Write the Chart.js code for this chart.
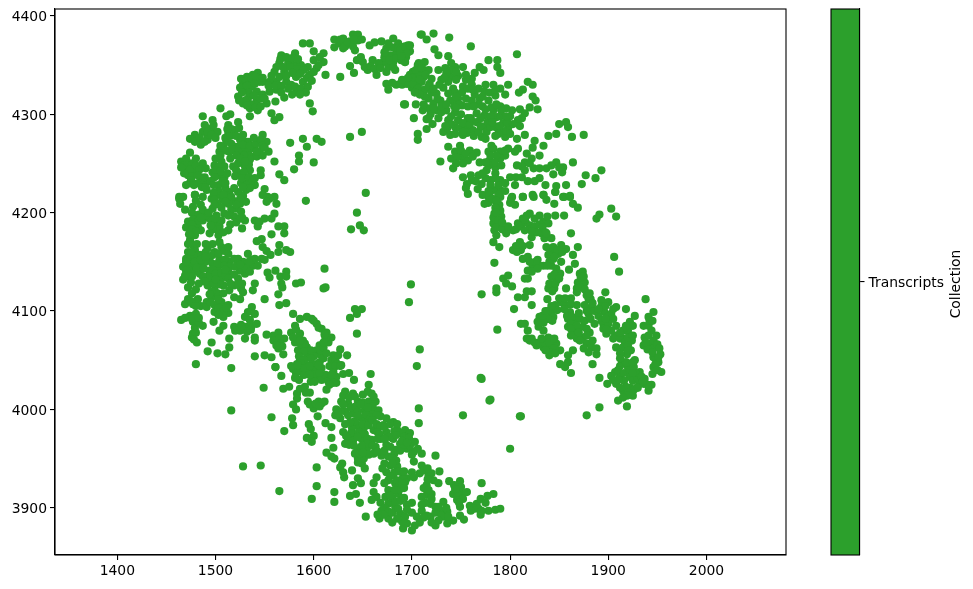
<!DOCTYPE html>
<html>
<head>
<meta charset="utf-8">
<title>Transcripts</title>
<script src="https://cdn.jsdelivr.net/npm/chart.js@4"></script>
<style>
  html, body { margin: 0; padding: 0; background: #fff; }
  #wrap { position: relative; width: 973px; height: 589px; overflow: hidden; }
  canvas { position: absolute; top: 0; }
</style>
</head>
<body>
<div id="wrap">
  <canvas id="scatter" width="973" height="589" style="left:0"></canvas>
  <canvas id="colorbar" width="183" height="589" style="left:790px"></canvas>
</div>
<script>
// values, one list per part of the ring
const topLeftArc = [[1505,4306],[1561,4313],[1596,4311],[1599,4303],[1535,4298],[1557,4301],[1560,4294],[1565,4297],[1576,4271],[1589,4275],[1593,4267],[1603,4275],[1608,4272],[1585,4258],[1585,4252],[1580,4244],[1600,4251],[1560,4252],[1565,4239],[1570,4233],[1637,4277],[1649,4282],[1653,4220],[1627,4338],[1637,4349],[1641,4342],[1693,4310],[1702,4296],[1704,4310],[1706,4280],[1706,4274],[1709,4381],
[1528,4331],[1532,4338],[1538,4340],[1543,4342],[1545,4333],[1530,4326],[1537,4328],[1542,4323],[1535,4333],[1523,4318],[1528,4311],[1535,4306],[1543,4304],[1552,4311],[1542,4314],[1533,4316],[1548,4320],[1555,4323],
[1567,4360],[1581,4362],[1565,4352],[1574,4353],[1560,4343],[1570,4343],[1581,4350],[1587,4350],[1562,4333],[1555,4333],[1572,4333],[1582,4338],[1589,4333],[1594,4328],[1582,4323],[1570,4317],[1562,4325],[1577,4330],[1548,4333],
[1589,4372],[1596,4372],[1600,4364],[1610,4362],[1610,4353],[1603,4347],[1594,4348],[1596,4340],[1612,4340],[1621,4376],[1621,4368],[1630,4377],[1632,4369],[1640,4381],[1645,4381],[1649,4376],[1642,4365],[1637,4374],
[1644,4355],[1650,4353],[1655,4345],[1664,4340],[1674,4343],[1683,4345],[1660,4355],[1671,4353],[1681,4353],[1657,4370],[1669,4374],[1681,4377],[1686,4372],[1674,4367],[1678,4360],[1696,4370],[1691,4362],[1698,4364],[1693,4353],[1684,4362],[1666,4352],
[1674,4331],[1676,4325],[1684,4330],[1695,4331],[1703,4335],[1706,4345],[1706,4328],[1707,4352],
[1487,4298],[1489,4289],[1497,4294],[1487,4282],[1496,4284],[1492,4277],[1502,4282],[1479,4279],[1474,4275],[1479,4272],[1485,4269],[1492,4274],[1511,4298],[1515,4300],[1513,4289],[1523,4292],[1519,4284],[1528,4279],[1513,4281],
[1508,4267],[1504,4262],[1516,4270],[1525,4274],[1533,4272],[1540,4265],[1548,4279],[1552,4272],[1545,4262],[1554,4262],[1537,4257],[1526,4262],[1514,4262],[1520,4267],[1530,4265],[1542,4257],[1533,4262],[1511,4272],[1523,4267],
[1474,4261],[1465,4252],[1469,4245],[1475,4250],[1480,4255],[1487,4250],[1472,4238],[1479,4241],[1485,4236],[1474,4230],[1482,4230],[1489,4230],[1491,4223],[1479,4218],[1463,4216],
[1499,4248],[1506,4252],[1497,4241],[1509,4247],[1503,4238],[1509,4236],[1503,4228],[1518,4247],[1523,4250],[1530,4247],[1535,4243],[1525,4240],[1546,4243],[1546,4238],[1526,4230],[1533,4230],[1540,4228],[1531,4223],[1514,4221],[1504,4218],[1496,4214],[1523,4221],[1513,4214],[1550,4224],[1553,4216],[1560,4216]];

const topLeftDense = [[1526,4336],[1531,4334],[1537,4336],[1541,4338],[1525,4327],[1532,4329],[1540,4331],[1548,4337],[1534,4322],[1527,4322],[1539,4319],[1546,4316],[1536,4310],[1530,4314],[1524,4314],[1541,4307],[1550,4316],[1546,4308],[1532,4309],
[1566,4356],[1572,4358],[1578,4357],[1584,4356],[1562,4348],[1569,4348],[1576,4348],[1583,4346],[1590,4345],[1557,4339],[1565,4338],[1572,4339],[1578,4342],[1586,4341],[1593,4337],[1598,4334],[1554,4329],[1561,4329],[1567,4329],[1574,4326],[1581,4328],[1587,4326],[1592,4322],[1578,4320],[1586,4320],[1567,4322],[1600,4343],[1605,4350],[1600,4355],[1606,4358],
[1626,4372],[1634,4373],[1640,4369],[1645,4375],[1641,4376],[1627,4376],[1630,4367],
[1648,4358],[1652,4348],[1658,4349],[1662,4346],[1668,4347],[1676,4348],[1681,4348],[1672,4358],[1677,4355],[1684,4357],[1689,4355],[1672,4363],[1680,4368],[1686,4367],[1690,4368],[1694,4358],[1662,4373],[1676,4372],
[1680,4332],[1690,4330],[1700,4333],[1706,4338],[1700,4327],[1712,4338],[1712,4345],
[1491,4286],[1492,4282],[1498,4289],[1484,4276],[1489,4272],[1496,4279],[1500,4276],
[1510,4276],[1515,4278],[1521,4278],[1527,4276],[1516,4285],[1524,4286],[1512,4285],[1505,4268],[1511,4263],[1517,4264],[1523,4262],[1528,4269],[1535,4268],[1541,4270],[1546,4274],[1548,4268],[1534,4258],[1529,4258],[1548,4258],[1521,4258],[1539,4276],[1542,4262],[1550,4266],
[1470,4255],[1468,4248],[1474,4244],[1480,4248],[1484,4244],[1490,4245],[1476,4237],[1482,4238],[1475,4233],[1478,4228],[1486,4226],[1489,4236],
[1503,4246],[1500,4243],[1505,4242],[1499,4236],[1521,4243],[1529,4241],[1534,4249],[1520,4237],[1527,4235],[1534,4236],[1538,4233],[1535,4225],[1528,4226],[1519,4225],[1510,4225],[1503,4222],[1498,4220],[1507,4213],[1518,4212],[1528,4217],[1513,4209],[1521,4204],[1516,4203],
[1470,4228],[1468,4240],[1465,4246],[1490,4226],[1495,4232],[1498,4228],[1507,4232],[1512,4240],[1515,4255],[1500,4255],[1505,4258],[1535,4254],[1525,4255],[1530,4252],[1540,4235],[1510,4230]];

const topRightArc = [[1710,4381],[1715,4376],[1722,4382],[1738,4378],[1760,4369],[1807,4361],[1723,4366],[1727,4360],[1688,4365],[1693,4369],[1698,4370],[1695,4362],[1693,4353],[1689,4359],
[1713,4353],[1706,4350],[1701,4343],[1708,4342],[1717,4345],[1695,4331],[1701,4331],[1710,4333],[1718,4331],[1713,4325],[1725,4321],[1717,4316],[1722,4311],[1729,4314],[1717,4306],[1725,4304],[1717,4296],[1727,4296],[1730,4302],[1688,4331],
[1692,4310],[1715,4285],[1721,4290],[1737,4359],[1740,4352],[1727,4345],[1734,4347],[1744,4348],[1752,4348],[1747,4339],[1739,4338],[1730,4335],[1737,4333],
[1778,4355],[1769,4348],[1764,4342],[1761,4336],[1773,4345],[1787,4355],[1787,4348],[1790,4342],
[1742,4326],[1737,4321],[1752,4328],[1761,4330],[1768,4326],[1774,4323],[1761,4314],[1769,4316],[1778,4314],[1757,4308],[1739,4314],[1747,4316],[1783,4330],[1790,4326],[1785,4319],[1798,4330],
[1818,4333],[1823,4330],[1813,4325],[1809,4322],[1823,4318],[1826,4314],[1820,4307],[1828,4305],[1810,4305],[1815,4301],[1812,4296],[1808,4294],[1810,4288],[1802,4304],[1790,4308],[1796,4306],
[1732,4282],[1739,4279],[1744,4287],[1737,4294],[1747,4294],[1756,4287],[1762,4284],[1771,4277],[1774,4287],[1766,4301],[1774,4299],[1783,4304],[1786,4297],[1793,4291],[1798,4286],[1795,4277],[1785,4287],[1766,4292],[1752,4279],[1757,4296],[1735,4304],[1744,4302],[1751,4309],[1742,4314],
[1737,4267],[1729,4252],[1749,4268],[1744,4262],[1740,4255],[1751,4257],[1759,4263],[1757,4253],[1766,4261],[1742,4245],
[1781,4268],[1778,4262],[1790,4262],[1798,4265],[1807,4275],[1815,4279],[1808,4265],[1805,4262],[1795,4258],[1769,4251],[1779,4253],[1785,4246],[1776,4243],[1790,4255],
[1825,4273],[1834,4268],[1839,4278],[1847,4280],[1823,4266],[1830,4258],[1817,4260],[1850,4290],[1857,4292],[1859,4287],[1863,4277],[1875,4279],
[1807,4248],[1815,4251],[1824,4245],[1837,4245],[1847,4251],[1854,4246],[1853,4241],[1844,4239],[1822,4255],[1864,4251],[1877,4238],[1893,4243],[1887,4235],[1873,4229],[1847,4227],[1846,4221],[1857,4228],[1861,4216],[1854,4216],
[1752,4236],[1761,4233],[1756,4229],[1771,4229],[1780,4233],[1790,4233],[1800,4236],[1812,4236],[1825,4232],[1805,4228],[1768,4238],[1785,4240],[1790,4223],[1757,4219],[1778,4216],[1790,4216],[1802,4216],[1813,4216],[1824,4216],[1834,4218],[1783,4223]];

const topRightDense = [[1698,4340],[1704,4345],[1710,4347],[1714,4340],[1708,4335],[1720,4336],[1717,4328],[1720,4322],[1722,4326],[1713,4318],[1726,4316],[1719,4300],[1722,4306],[1730,4308],[1711,4304],[1706,4326],[1700,4337],[1696,4337],[1690,4335],
[1740,4345],[1735,4342],[1745,4343],[1733,4337],[1735,4310],[1743,4308],[1748,4310],[1744,4322],[1751,4322],[1757,4326],[1755,4316],[1764,4320],[1772,4318],[1779,4322],[1768,4310],[1763,4308],[1772,4308],
[1736,4286],[1740,4290],[1744,4280],[1749,4286],[1752,4291],[1756,4281],[1759,4290],[1763,4278],[1768,4282],[1770,4288],[1777,4292],[1780,4298],[1776,4282],[1780,4287],[1790,4298],[1793,4283],[1789,4288],[1797,4292],[1791,4304],[1781,4307],[1775,4305],[1786,4310],[1740,4298],[1734,4288],[1750,4300],[1745,4307],
[1750,4263],[1746,4256],[1752,4250],[1745,4250],[1755,4260],[1762,4257],[1783,4265],[1786,4258],[1780,4258],[1795,4263],[1784,4251],[1778,4248],[1791,4248],[1775,4251],[1785,4235],[1775,4235],[1780,4228],[1788,4228],[1795,4230],[1765,4232],[1760,4238],[1772,4240],[1755,4225],[1767,4224],[1778,4222],[1772,4218],[1785,4212],[1778,4210],[1795,4222],[1800,4210],
[1812,4247],[1820,4250],[1830,4245],[1842,4248],[1850,4246],[1815,4243],[1806,4236],[1818,4232],[1830,4235],[1836,4228],
[1760,4296],[1770,4296],[1752,4282],[1788,4280],[1800,4280],[1803,4290],[1800,4298],[1796,4298],[1782,4292],[1775,4275],[1785,4278],[1745,4318],[1755,4335],[1762,4325],[1775,4330],[1785,4325],[1795,4320],[1745,4335],[1755,4340],[1732,4327],[1728,4330],[1712,4310],[1708,4320],[1703,4322],[1715,4295]];

const leftLobe = [[1463,4214],[1467,4216],[1464,4209],[1469,4203],[1479,4218],[1477,4206],[1485,4208],[1487,4216],[1480,4197],[1487,4192],[1472,4191],[1470,4185],[1482,4186],[1485,4182],[1494,4194],[1474,4172],[1479,4177],[1477,4167],
[1499,4213],[1508,4218],[1516,4216],[1525,4209],[1497,4204],[1499,4189],[1509,4199],[1519,4196],[1526,4201],[1531,4211],[1504,4186],[1494,4179],[1503,4177],[1513,4182],[1501,4197],[1530,4192],[1527,4184],
[1548,4218],[1555,4214],[1562,4209],[1552,4211],[1560,4199],[1557,4194],[1540,4192],[1543,4186],[1550,4194],[1545,4191],[1592,4212],[1644,4200],[1647,4187],[1651,4182],[1638,4183],[1564,4186],[1570,4186],[1570,4179],[1557,4178],[1542,4171],[1547,4173],[1565,4167],[1564,4160],[1572,4162],[1576,4160],[1548,4165],[1552,4161],[1556,4157],
[1472,4160],[1470,4153],[1479,4162],[1484,4157],[1492,4164],[1499,4160],[1506,4165],[1513,4158],[1494,4153],[1504,4152],[1514,4150],[1475,4148],[1467,4145],[1484,4148],[1477,4140],[1472,4135],[1467,4132],[1472,4124],[1484,4138],[1475,4129],
[1494,4141],[1502,4143],[1513,4140],[1497,4135],[1506,4133],[1494,4128],[1508,4126],[1499,4121],[1514,4121],[1492,4126],[1523,4133],[1519,4126],[1526,4123],[1528,4119],[1530,4138],[1523,4153],[1533,4158],[1528,4150],[1525,4141],[1533,4145],[1540,4153],[1547,4153],[1550,4152],[1538,4146],[1543,4146],[1540,4128],[1538,4121],[1550,4112],
[1553,4139],[1555,4134],[1561,4141],[1572,4140],[1566,4135],[1572,4135],[1567,4128],[1568,4124],[1564,4117],[1565,4106],[1572,4108],[1582,4128],[1587,4129],[1611,4143],[1610,4123],[1612,4124],[1699,4127],[1697,4109],[1642,4102],[1649,4102],[1644,4097],[1637,4093],[1579,4097],[1644,4077],
[1519,4114],[1525,4112],[1469,4107],[1472,4112],[1477,4107],[1482,4112],[1485,4105],[1491,4109],[1496,4114],[1499,4106],[1506,4109],[1513,4106],[1499,4099],[1506,4104],[1513,4098],[1508,4094],[1465,4091],[1474,4095],[1480,4097],[1477,4089],[1479,4083],[1487,4085],[1498,4089],
[1508,4085],[1504,4080],[1514,4072],[1496,4068],[1492,4059],[1502,4057],[1510,4056],[1514,4063],[1476,4073],[1481,4068],[1477,4077],[1480,4046],[1516,4042],
[1537,4104],[1533,4099],[1530,4094],[1540,4097],[1519,4084],[1525,4080],[1531,4084],[1537,4085],[1542,4087],[1530,4072],[1540,4073],[1540,4070],[1540,4054],[1550,4055],
[1552,4076],[1559,4075],[1564,4078],[1562,4070],[1570,4072],[1564,4062],[1569,4056],[1557,4053],[1561,4043],
[1581,4085],[1577,4078],[1586,4077],[1593,4094],[1586,4092],[1598,4092],[1603,4087],[1608,4082],[1613,4078],[1618,4073],[1615,4068],[1606,4065],[1603,4060],[1589,4070],[1581,4068],[1584,4060],[1593,4063],[1594,4056],[1606,4056],
[1627,4061],[1634,4055],[1620,4055],[1618,4050],[1628,4045],[1621,4043],[1586,4050],[1581,4043],[1593,4045],[1603,4046],[1593,4053],[1705,4044],[1708,4061]];

const leftLobeDense = [[1502,4209],[1510,4211],[1525,4214],[1506,4205],[1521,4208],[1499,4208],[1501,4183],[1508,4180],[1515,4188],[1521,4190],[1525,4194],[1497,4183],[1506,4192],[1499,4194],[1513,4197],[1527,4195],
[1476,4200],[1483,4198],[1477,4193],[1483,4192],[1476,4188],[1490,4197],[1487,4203],[1480,4212],[1476,4183],[1480,4181],[1474,4178],[1472,4168],
[1475,4155],[1478,4156],[1473,4145],[1479,4150],[1472,4142],[1476,4135],[1481,4144],[1470,4141],[1469,4136],[1488,4143],
[1490,4160],[1497,4157],[1503,4158],[1509,4161],[1490,4150],[1497,4148],[1502,4148],[1509,4152],[1497,4142],[1509,4146],[1514,4145],[1492,4135],[1500,4138],[1506,4139],[1510,4136],[1504,4127],[1498,4128],[1513,4133],[1502,4118],[1496,4120],[1494,4117],
[1519,4153],[1523,4148],[1537,4152],[1531,4143],[1519,4137],[1523,4128],[1527,4128],[1534,4150],
[1475,4110],[1480,4105],[1491,4104],[1495,4109],[1503,4112],[1503,4103],[1508,4100],[1511,4103],[1469,4093],[1476,4092],[1483,4088],[1483,4093],[1480,4078],[1478,4071],[1503,4096],
[1526,4086],[1532,4079],[1535,4091],[1536,4081],[1526,4084],[1520,4080],
[1559,4070],[1565,4072],[1566,4067],[1568,4064],[1562,4065],[1582,4081],[1579,4073],[1583,4072],[1587,4066],[1591,4067],[1586,4070],[1597,4060],[1590,4059],[1600,4054],[1585,4054],[1597,4052],[1590,4050],[1583,4046],[1599,4046],[1607,4060],[1612,4072],[1610,4063],[1605,4083],[1600,4090],[1611,4076],[1587,4047],[1606,4048],[1622,4050],[1625,4055],[1624,4046],[1616,4044],[1598,4040],[1603,4040],[1589,4037],[1585,4040],[1579,4041],[1599,4032],[1603,4033],[1601,4036],[1608,4042],[1592,4038],[1582,4037],
[1470,4150],[1475,4160],[1485,4152],[1490,4155],[1487,4135],[1489,4130],[1483,4128],[1480,4122],[1476,4118],[1500,4132],[1508,4118],[1515,4128],[1510,4142],[1520,4145],[1525,4147],[1535,4140],[1497,4168],[1504,4170],[1513,4165],[1490,4168],[1481,4168],[1473,4178],[1485,4195],[1493,4200],[1495,4187],
[1590,4035],[1585,4030],[1597,4028],[1608,4030],[1612,4035],[1615,4028],[1610,4052],[1613,4057],[1610,4068]];

const bottomArc = [[1577,4044],[1584,4045],[1591,4042],[1581,4032],[1596,4044],[1605,4045],[1596,4035],[1606,4037],[1601,4028],[1561,4043],[1567,4034],[1549,4022],[1770,4032],[1780,4010],[1752,3994],[1800,3960],[1810,3993],[1707,4001],[1707,3986],[1658,4036],[1630,4036],[1636,4037],[1641,4030],
[1622,4044],[1627,4044],[1617,4030],[1623,4027],[1613,4020],[1620,4038],[1569,4021],[1575,4023],[1583,4016],[1583,4011],[1591,4023],[1596,4017],[1594,4008],[1605,4008],[1611,4008],[1600,4001],[1579,4005],[1582,4000],[1578,3991],[1579,3984],[1570,3978],[1557,3992],[1516,3999],
[1595,3985],[1597,3980],[1593,3971],[1600,3973],[1598,3967],[1604,3993],[1612,3986],[1618,3982],[1618,3971],[1620,3961],[1613,3956],[1618,3952],[1621,3950],[1629,3945],[1627,3941],[1630,3936],[1631,3931],[1603,3941],[1528,3942],[1546,3943],[1565,3917],[1603,3922],[1598,3909],[1621,3916],[1621,3906],[1637,3912],[1643,3914],[1647,3905],[1653,3891],
[1639,3938],[1645,3930],[1640,3923],[1648,3925],[1649,3945],[1645,3950],[1652,3940],[1664,3931],[1661,3925],[1632,4018],[1640,4016],[1645,4008],[1628,4008],[1635,4006],[1623,4000],[1632,3998],[1627,3991],[1640,3996],[1622,3994],
[1656,4025],[1659,4016],[1656,4008],[1663,4008],[1652,3999],[1659,3998],[1666,3999],[1649,3991],[1656,3989],[1645,3984],[1651,3981],[1639,3981],[1630,3977],[1635,3970],[1632,3965],[1642,3974],
[1668,3993],[1674,3991],[1671,3984],[1681,3987],[1661,3979],[1659,3969],[1685,3979],[1693,3979],[1698,3976],[1674,3977],[1668,3970],[1681,3970],
[1649,3970],[1645,3960],[1654,3959],[1642,3955],[1651,3950],[1661,3955],[1669,3953],[1663,3962],[1674,3964],[1683,3959],[1676,3952],[1688,3965],[1695,3960],[1703,3967],[1702,3957],[1710,3955],[1724,3953],[1710,3943],[1702,3947],[1700,3936],[1708,3935],[1695,3930],[1702,3931],
[1678,3943],[1685,3942],[1674,3936],[1681,3933],[1691,3931],[1688,3921],[1686,3914],[1693,3926],[1683,3925],[1676,3918],[1661,3916],[1664,3911],[1659,3908],[1673,3911],[1676,3904],[1669,3897],[1667,3889],[1676,3889],[1683,3901],[1688,3894],[1693,3891],[1691,3879],[1700,3877],[1703,3882],[1695,3884],
[1717,3933],[1715,3923],[1722,3928],[1727,3925],[1715,3913],[1710,3911],[1720,3914],[1719,3904],[1710,3897],[1705,3891],[1724,3901],[1732,3906],[1729,3897],[1736,3896],[1719,3891],[1724,3882],[1736,3884],[1742,3887],[1732,3891],[1728,3937],
[1738,3927],[1749,3927],[1748,3919],[1742,3914],[1751,3914],[1756,3916],[1746,3908],[1749,3901],[1749,3892],[1753,3888],[1759,3902],[1766,3904],[1764,3899],[1770,3909],[1777,3912],[1783,3914],[1770,3893],[1778,3897],[1785,3898],[1790,3899],[1771,3925]];

const bottomArcDense = [[1623,4033],[1620,4027],[1616,4025],[1618,4035],[1592,4017],[1586,4021],[1596,4005],[1602,4006],[1608,4006],[1606,4003],
[1630,4014],[1636,4012],[1642,4013],[1630,4005],[1638,4002],[1643,4003],[1627,3998],[1635,3994],[1625,3996],[1650,4015],[1655,4018],[1661,4013],[1650,4007],[1660,4003],[1653,3995],[1658,3992],[1664,3994],[1650,3985],[1642,3988],[1656,3984],[1638,3976],[1646,3977],[1633,3973],[1640,3968],[1645,3972],[1652,3975],[1655,3970],[1636,3964],[1641,3963],
[1660,3989],[1664,3985],[1668,3983],[1665,3977],[1672,3982],[1678,3985],[1685,3985],[1682,3978],[1689,3976],[1667,3975],[1677,3972],[1684,3974],[1692,3972],[1697,3971],[1655,3965],[1649,3963],[1660,3963],[1647,3955],[1656,3954],[1645,3946],[1650,3956],[1665,3957],[1672,3958],[1678,3962],[1682,3955],[1688,3958],[1692,3964],[1698,3963],[1700,3954],[1706,3960],[1680,3950],[1684,3948],
[1682,3936],[1678,3932],[1685,3928],[1680,3945],[1687,3937],[1692,3937],[1690,3925],[1687,3918],[1692,3920],[1712,3938],[1716,3940],[1720,3935],[1716,3929],[1712,3920],[1714,3905],[1720,3909],[1717,3918],[1724,3895],[1715,3892],[1710,3903],[1727,3901],[1730,3892],[1735,3900],[1737,3891],[1727,3887],[1720,3885],
[1743,3923],[1746,3915],[1750,3921],[1744,3919],[1752,3909],[1748,3905],[1760,3897],[1768,3899],[1775,3905],[1771,3897],
[1668,3905],[1672,3900],[1676,3896],[1680,3895],[1686,3899],[1690,3886],[1680,3910],[1683,3906],[1688,3907],[1685,3889],
[1645,3998],[1648,4005],[1645,3994],[1637,3987],[1632,3985],[1655,4002],[1665,3970],[1672,3970],[1690,3968],[1695,3966],[1672,3945],[1670,3940],[1676,3928],[1672,3925],[1682,3918],[1678,3912],[1695,3903],[1692,3910],[1700,3905],[1700,3895],[1695,3898],[1712,3890],[1708,3885],[1680,3885],[1671,3893],[1665,3893]];

const rightLobe = [[1779,4218],[1774,4209],[1788,4218],[1789,4208],[1801,4214],[1805,4208],[1813,4216],[1823,4218],[1834,4218],[1837,4213],[1846,4221],[1855,4216],[1861,4217],[1864,4209],[1869,4205],[1845,4209],[1846,4197],[1855,4197],[1862,4179],[1903,4204],[1908,4196],[1888,4194],[1891,4198],[1906,4155],[1911,4140],[1938,4112],[1869,4165],[1864,4157],[1866,4148],[1860,4142],
[1784,4199],[1783,4189],[1784,4182],[1791,4196],[1789,4187],[1783,4170],[1789,4165],[1786,4177],[1796,4179],[1803,4182],[1808,4189],[1813,4194],[1820,4199],[1825,4194],[1820,4187],[1834,4191],[1832,4179],[1822,4175],[1839,4189],[1835,4174],[1842,4174],
[1810,4170],[1803,4162],[1811,4162],[1813,4153],[1820,4167],[1837,4165],[1842,4160],[1852,4167],[1857,4163],[1849,4158],[1839,4157],[1828,4152],[1823,4145],[1834,4146],[1818,4141],[1842,4146],[1852,4150],[1847,4143],[1851,4138],[1818,4133],[1815,4133],[1842,4135],[1847,4131],[1839,4123],[1845,4123],[1857,4123],
[1784,4149],[1793,4133],[1798,4136],[1796,4128],[1802,4125],[1786,4123],[1786,4119],[1771,4117],[1808,4114],[1815,4114],[1817,4120],[1822,4120],[1804,4102],[1822,4106],[1838,4112],[1871,4138],[1874,4140],[1869,4129],[1876,4129],[1868,4123],[1868,4119],[1897,4119],
[1852,4109],[1846,4106],[1842,4099],[1840,4092],[1830,4094],[1829,4084],[1834,4080],[1844,4094],[1862,4113],[1857,4106],[1868,4106],[1861,4099],[1859,4092],[1866,4092],[1859,4084],[1866,4078],[1874,4084],[1871,4092],[1880,4112],[1883,4104],[1876,4106],[1880,4097],[1886,4087],[1881,4078],[1874,4073],[1868,4072],[1878,4067],[1883,4063],[1888,4056],
[1893,4111],[1900,4109],[1896,4099],[1890,4095],[1903,4097],[1908,4104],[1918,4102],[1895,4087],[1898,4077],[1908,4085],[1907,4075],[1817,4072],[1822,4072],[1827,4065],[1834,4063],[1839,4073],[1842,4063],[1847,4067],[1840,4055],[1851,4060],[1818,4080],[1811,4087],[1815,4087],[1864,4060],[1859,4055],[1851,4046],[1856,4043],[1859,4048],[1862,4037],[1884,4046],[1891,4032],[1899,4026],
[1927,4095],[1922,4089],[1920,4080],[1915,4072],[1924,4070],[1905,4072],[1908,4063],[1919,4056],[1946,4099],[1941,4094],[1936,4085],[1944,4080],[1937,4073],[1949,4075],[1942,4067],[1936,4065],[1947,4063],[1953,4056],[1946,4053],[1951,4048],[1946,4043],[1954,4038],
[1914,4048],[1907,4038],[1920,4043],[1927,4050],[1912,4033],[1922,4033],[1932,4038],[1937,4031],[1944,4025],[1941,4019],[1915,4019],[1925,4014],[1929,4022],[1908,4026],[1903,4034],[1932,4026],[1922,4022],[1910,4009],[1919,4003],[1891,4002],[1878,3994],[1811,3993],[1779,4009],[1787,4081],[1771,4031]];

const rightLobeDense = [[1782,4214],[1786,4212],[1790,4202],[1785,4205],[1783,4195],[1788,4192],[1786,4185],[1792,4183],[1806,4183],[1811,4186],[1816,4190],[1817,4197],[1825,4186],[1830,4188],[1833,4185],[1827,4180],[1836,4180],[1838,4196],[1815,4193],[1830,4197],
[1806,4166],[1813,4166],[1807,4160],[1844,4165],[1848,4162],[1853,4160],[1844,4153],[1830,4146],[1826,4150],[1840,4150],[1822,4140],[1828,4143],[1838,4146],[1845,4137],[1840,4128],[1846,4128],[1843,4120],
[1850,4113],[1848,4101],[1843,4090],[1838,4092],[1834,4088],[1828,4089],[1833,4095],[1842,4105],[1838,4100],
[1862,4107],[1858,4095],[1863,4094],[1855,4102],[1862,4087],[1868,4085],[1870,4098],[1878,4100],[1876,4090],[1878,4082],[1882,4092],[1886,4100],[1870,4078],[1862,4082],[1871,4070],[1878,4075],[1884,4070],
[1872,4134],[1871,4124],[1876,4122],[1878,4116],[1882,4112],[1893,4105],[1897,4105],[1899,4094],[1893,4090],[1905,4092],[1900,4087],[1895,4082],[1903,4080],[1898,4081],
[1820,4070],[1825,4068],[1830,4068],[1836,4067],[1840,4068],[1845,4062],[1842,4058],[1836,4060],
[1912,4072],[1917,4068],[1920,4073],[1915,4063],[1920,4065],[1925,4085],[1918,4085],[1912,4057],[1923,4060],
[1941,4085],[1941,4075],[1946,4070],[1940,4061],[1945,4058],[1950,4066],[1948,4046],[1951,4053],
[1912,4044],[1918,4048],[1910,4040],[1916,4037],[1922,4040],[1926,4043],[1916,4029],[1910,4030],[1918,4023],[1925,4029],[1930,4032],[1928,4037],[1934,4033],[1926,4020],[1920,4017],[1936,4026],[1940,4025],[1912,4022],[1919,4014],
[1786,4200],[1792,4190],[1798,4186],[1815,4182],[1822,4181],[1837,4179],[1818,4155],[1820,4150],[1845,4155],[1850,4133],[1875,4135],[1881,4118],[1884,4108],[1890,4102],[1897,4092],[1905,4102],[1856,4113],[1836,4100],[1832,4072],[1845,4072],[1846,4057],[1862,4075],[1875,4062],[1880,4058],[1888,4062],[1915,4080],[1912,4078],[1925,4075],[1920,4060],[1942,4090],[1945,4090],[1938,4068],[1945,4036],[1950,4040],[1952,4062],[1905,4030],[1925,4037],[1935,4028],[1930,4022],[1915,4012],[1912,4052],[1925,4048]];

const xTicks = [1400, 1500, 1600, 1700, 1800, 1900, 2000];
const yTicks = [3900, 4000, 4100, 4200, 4300, 4400];
const collections = ['Transcripts'];
const green = '#2ca02c';
const font = { family: '"DejaVu Sans"', size: 13.9 };

const points = [...topLeftArc, ...topLeftDense, ...topRightArc, ...topRightDense, ...leftLobe, ...leftLobeDense,
  ...bottomArc, ...bottomArcDense, ...rightLobe, ...rightLobeDense].map(p => ({ x: p[0], y: p[1] }));

// box round the axes, as chart.js only draws the two axis lines
const frame = {
  id: 'frame',
  afterDraw(chart) {
    const { ctx, chartArea: a } = chart;
    ctx.save();
    ctx.strokeStyle = '#000';
    ctx.lineWidth = 1.1;
    ctx.strokeRect(a.left, a.top, a.right - a.left, a.bottom - a.top);
    ctx.restore();
  }
};

const tickOpts = { color: '#000', font: font, padding: 3, maxRotation: 0, autoSkip: false, includeBounds: false, callback: v => String(v) };
// empty first line plus a tiny line height drops vertical-axis digits onto their tick
const lowFont = { ...font, lineHeight: '3.4px' };
const gridOpts = { drawOnChartArea: false, color: '#000', lineWidth: 1.1, tickLength: 5 };

new Chart(document.getElementById('scatter'), {
  type: 'scatter',
  data: {
    datasets: [{
      label: collections[0],
      data: points,
      backgroundColor: green,
      borderWidth: 0,
      pointRadius: 4.1
    }]
  },
  options: {
    responsive: false,
    animation: false,
    layout: { padding: { left: 0, right: 187, top: 9, bottom: 0 } },
    plugins: { legend: { display: false }, tooltip: { enabled: false } },
    scales: {
      x: {
        type: 'linear', min: 1336.5, max: 2081,
        grid: gridOpts, border: { color: '#000', width: 1.1 },
        ticks: { ...tickOpts, stepSize: 100 },
        afterBuildTicks: s => { s.ticks = xTicks.map(v => ({ value: v })); },
        afterFit: s => { s.height = 34; s.paddingLeft = 0; s.paddingRight = 0; }
      },
      y: {
        type: 'linear', min: 3852, max: 4407,
        grid: gridOpts, border: { color: '#000', width: 1.1 },
        ticks: { ...tickOpts, font: lowFont, stepSize: 100, callback: v => ['', String(v)] },
        afterBuildTicks: s => { s.ticks = yTicks.map(v => ({ value: v })); },
        afterFit: s => { s.width = 55; s.paddingTop = 0; s.paddingBottom = 0; }
      }
    }
  },
  plugins: [frame]
});

// colour bar, one box with the single collection in the middle
const barTitle = {
  id: 'barTitle',
  afterDraw(chart) {
    const { ctx, chartArea: a } = chart;
    ctx.save();
    ctx.translate(166, (a.top + a.bottom) / 2 + 2);
    ctx.rotate(-Math.PI / 2);
    ctx.fillStyle = '#000';
    ctx.font = '13.9px "DejaVu Sans"';
    ctx.textAlign = 'center';
    ctx.textBaseline = 'middle';
    ctx.fillText('Collection', 0, 0);
    ctx.restore();
  }
};

new Chart(document.getElementById('colorbar'), {
  type: 'bar',
  data: {
    labels: collections,
    datasets: [{ data: [1], backgroundColor: green, borderWidth: 0, barPercentage: 1, categoryPercentage: 1 }]
  },
  options: {
    responsive: false,
    animation: false,
    layout: { padding: { left: 41, right: 0, top: 9, bottom: 34 } },
    plugins: { legend: { display: false }, tooltip: { enabled: false } },
    scales: {
      x: { display: false },
      y: {
        position: 'right', min: 0, max: 1,
        grid: gridOpts, border: { color: '#000', width: 1.1 },
        ticks: { ...tickOpts, font: lowFont, padding: 4, callback: () => ['', collections[0]] },
        afterBuildTicks: s => { s.ticks = [{ value: 0.5 }]; },
        afterFit: s => { s.width = 113.5; s.paddingTop = 0; s.paddingBottom = 0; }
      }
    }
  },
  plugins: [frame, barTitle]
});
</script>
</body>
</html>
